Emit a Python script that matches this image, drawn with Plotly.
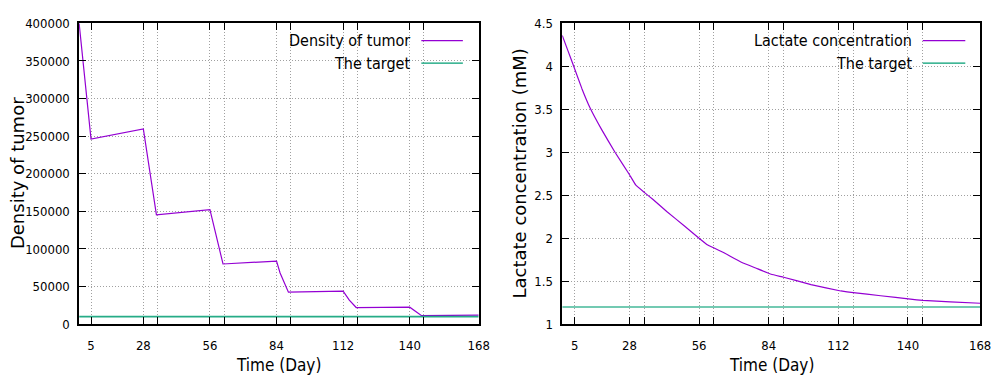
import plotly.graph_objects as go

# ---------------- data ----------------
days_density = [0, 5, 27, 32.5, 55, 60.5, 83, 84.5, 88, 111, 113.6, 116.5, 139, 144, 168]
density = [400000, 246000, 259600, 145500, 152300, 80000, 83900, 68000, 42500,
           43800, 31900, 22100, 22600, 11300, 11900]
density_target = 10000

days_lactate = [0, 2.3, 4.6, 7.9, 11.2, 15.9, 21.2, 27.1, 29.5, 33.1, 36.5, 42, 49, 55,
                58.5, 65, 72, 78, 84, 89, 100, 112, 117, 128, 140, 145, 156, 168]
lactate = [4.36, 4.18, 4.0, 3.74, 3.515, 3.26, 3.0, 2.735, 2.62, 2.53, 2.45, 2.31, 2.145,
           2.0, 1.92, 1.83, 1.72, 1.65, 1.58, 1.546, 1.46, 1.386, 1.367, 1.33, 1.291,
           1.276, 1.258, 1.243]
lactate_target = 1.2

x_tickvals = [5, 27, 33, 55, 61, 83, 89, 111, 117, 139, 145, 168]
x_ticktext = ["5", "28", "", "56", "", "84", "", "112", "", "140", "", "168"]
density_ticks = [0, 50000, 100000, 150000, 200000, 250000, 300000, 350000, 400000]
lactate_ticks = [1, 1.5, 2, 2.5, 3, 3.5, 4, 4.5]
lactate_ticktext = ["1", "1.5", "2", "2.5", "3", "3.5", "4", "4.5"]

# ---------------- style ----------------
W, H = 1003, 385
PURPLE = "#9400d3"
GREEN = "#009e73"
COND = "DejaVu Sans Condensed, DejaVu Sans, sans-serif"
REG = "DejaVu Sans, sans-serif"
GRID = "#a0a0a0"


def px(x):
    return x / W


def py(y):
    return 1 - y / H


fig = go.Figure()

fig.add_trace(go.Scatter(x=days_density, y=density, mode="lines",
                         line=dict(color=PURPLE, width=1.2), xaxis="x", yaxis="y",
                         name="Density of tumor", showlegend=False))
fig.add_trace(go.Scatter(x=[0, 168], y=[density_target, density_target], mode="lines",
                         line=dict(color=GREEN, width=1.6), opacity=0.85,
                         xaxis="x", yaxis="y", name="The target", showlegend=False))
fig.add_trace(go.Scatter(x=days_lactate, y=lactate, mode="lines",
                         line=dict(color=PURPLE, width=1.2, shape="spline", smoothing=0.2),
                         xaxis="x2", yaxis="y2",
                         name="Lactate concentration", showlegend=False))
fig.add_trace(go.Scatter(x=[0, 168], y=[lactate_target, lactate_target], mode="lines",
                         line=dict(color=GREEN, width=2), opacity=0.55,
                         xaxis="x2", yaxis="y2", name="The target", showlegend=False))

common_x = dict(range=[0, 168], tickmode="array", tickvals=x_tickvals, ticktext=x_ticktext,
                ticks="inside", ticklen=7, tickcolor="black", tickwidth=1,
                showline=True, linecolor="black", linewidth=1.5, mirror="allticks",
                showgrid=True, gridcolor=GRID, gridwidth=1, griddash="1px,2px",
                zeroline=False, tickfont=dict(family=COND, size=13, color="black"),
                ticklabelstandoff=9)
common_y = dict(ticks="inside", ticklen=7, tickcolor="black", tickwidth=1,
                showline=True, linecolor="black", linewidth=1.5, mirror="allticks",
                showgrid=True, gridcolor=GRID, gridwidth=1, griddash="1px,2px",
                zeroline=False, tickfont=dict(family=COND, size=13, color="black"),
                ticklabelstandoff=5)

ydom = [py(330), py(17)]
fig.update_layout(
    width=W, height=H,
    margin=dict(l=0, r=0, t=0, b=0),
    paper_bgcolor="white", plot_bgcolor="white",
    xaxis=dict(domain=[px(80), px(484)], anchor="y", **common_x),
    yaxis=dict(domain=ydom, anchor="x", range=[0, 400000], tickmode="array",
               tickvals=density_ticks, ticktext=[str(v) for v in density_ticks], **common_y),
    xaxis2=dict(domain=[px(568.5), px(991)], anchor="y2", **common_x),
    yaxis2=dict(domain=ydom, anchor="x2", range=[1, 4.5], tickmode="array",
                tickvals=lactate_ticks, ticktext=lactate_ticktext, **common_y),
)

annotations = []
shapes = []

# axis titles
for cx in (282, 779.7):
    annotations.append(dict(text="Time (Day)", x=px(cx), y=py(373), xref="paper", yref="paper",
                            showarrow=False, font=dict(family=COND, size=17, color="black"),
                            xanchor="center", yanchor="middle"))
annotations.append(dict(text="Density of tumor", x=px(17), y=py(173), xref="paper", yref="paper",
                        showarrow=False, textangle=-90,
                        font=dict(family=REG, size=18, color="black"),
                        xanchor="center", yanchor="middle"))
annotations.append(dict(text="Lactate concentration (mM)", x=px(525), y=py(173),
                        xref="paper", yref="paper", showarrow=False, textangle=-90,
                        font=dict(family=REG, size=18, color="black"),
                        xanchor="center", yanchor="middle"))

# custom gnuplot-style legends (text right-aligned, sample line on the right)
legends = [
    dict(box=(267, 24, 477, 68), text_right=417, line=(426, 468),
         items=[("Density of tumor", PURPLE), ("The target", GREEN)]),
    dict(box=(727, 24, 984, 72), text_right=924, line=(933, 976),
         items=[("Lactate concentration", PURPLE), ("The target", GREEN)]),
]
rows_y = [35, 58.5]
for lg in legends:
    x0, y0, x1, y1 = lg["box"]
    shapes.append(dict(type="rect", xref="paper", yref="paper",
                       x0=px(x0), x1=px(x1), y0=py(y1), y1=py(y0),
                       fillcolor="white", line=dict(width=0), layer="between"))
    for (label, color), ry in zip(lg["items"], rows_y):
        annotations.append(dict(text=label, x=px(lg["text_right"]), y=py(ry),
                                xref="paper", yref="paper", showarrow=False,
                                font=dict(family=COND, size=16, color="black"),
                                xanchor="right", yanchor="middle"))
        shapes.append(dict(type="line", xref="paper", yref="paper",
                           x0=px(lg["line"][0]), x1=px(lg["line"][1]),
                           y0=py(ry), y1=py(ry), line=dict(color=color, width=1.2)))

fig.update_layout(annotations=annotations, shapes=shapes)
fig.write_html("out.html")
